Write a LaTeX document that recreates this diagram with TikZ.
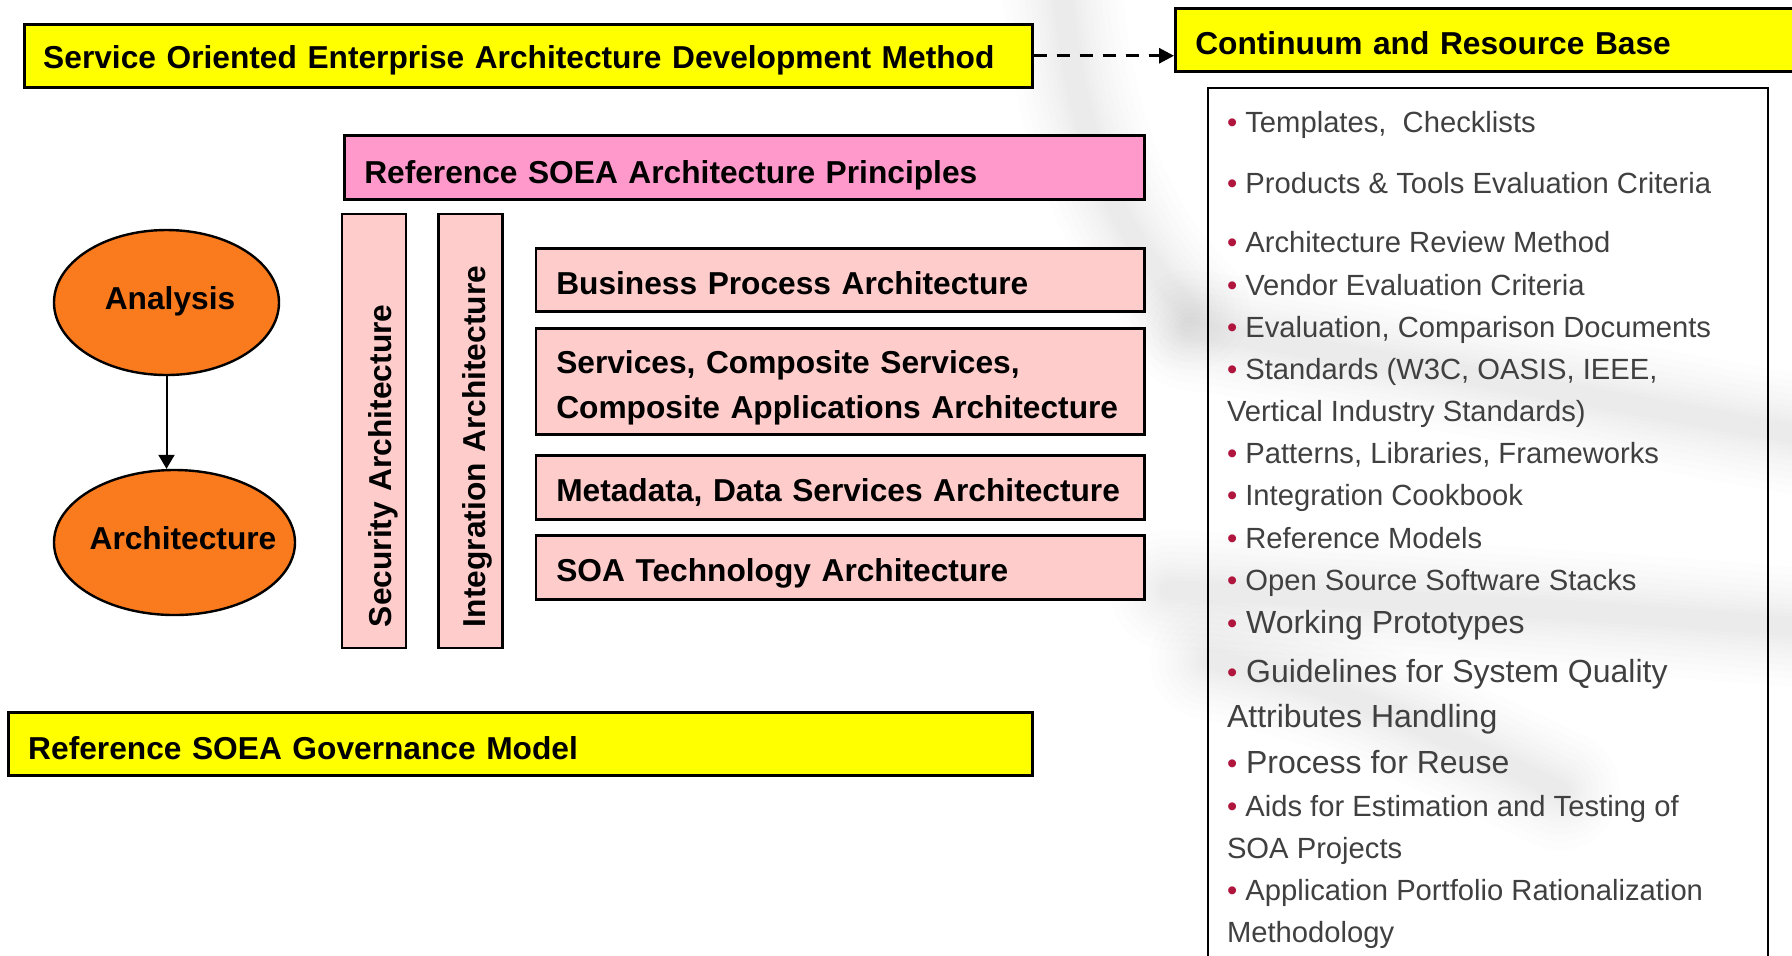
\documentclass[tikz,border=0pt]{standalone}
\usepackage{fontspec}
\setmainfont{Liberation Sans}
\usetikzlibrary{arrows.meta,shapes.geometric}
\definecolor{soyellow}{HTML}{FFFF00}
\definecolor{sopink}{HTML}{FF99CC}
\definecolor{solight}{HTML}{FFCCCC}
\definecolor{soorange}{HTML}{FA7A1E}
\definecolor{sotext}{HTML}{404040}
\definecolor{sobullet}{HTML}{B0153E}
\newcommand\sobul{{\fontsize{14.6pt}{17pt}\selectfont\color{sobullet}\textbullet}}
\begin{document}
\begin{tikzpicture}[x=0.5pt,y=-0.5pt,
  box/.style={draw=black, line width=1.25pt, anchor=north west, inner ysep=0pt, align=left,
    font=\fontsize{15.85pt}{22.5pt}\selectfont\bfseries},
  ell/.style={ellipse, draw=black, line width=1.2pt, fill=soorange, inner sep=0pt,
    text height=11pt, text depth=4.5pt, font=\fontsize{15.85pt}{19pt}\selectfont\bfseries},
  itm/.style={anchor=base west, inner sep=0pt, text=sotext, font=\fontsize{14.6pt}{17pt}\selectfont},
  bigitm/.style={itm, font=\fontsize{16pt}{19pt}\selectfont},
  solidarr/.style={line width=1pt, -{Triangle[length=7pt,width=8pt]}},
  dasharr/.style={line width=1.5pt, dash pattern=on 6.5pt off 5pt, -{Triangle[length=7.5pt,width=7.5pt]}},
  swoosh/.style={draw=black, line cap=round, opacity=0.009}
]
\fill[white] (0,0) rectangle (1792,955);
\useasboundingbox (0,0) rectangle (1792,955);
% faint background swoosh
\foreach \w in {120,104,90,77,65,54,44,35,27,20}{
  \draw[swoosh, line width=\w*0.5pt] (1060,-40) .. controls (1070,120) and (1110,230) .. (1190,310);
  \draw[swoosh, line width=\w*0.5pt] (1190,330) .. controls (1400,360) and (1600,400) .. (1830,440);
  \draw[swoosh, line width=\w*0.5pt] (1170,590) .. controls (1400,600) and (1600,610) .. (1830,630);
  \draw[swoosh, line width=\w*0.5pt] (1210,660) .. controls (1350,685) and (1450,740) .. (1560,790);
}
% top boxes
\node[box, fill=soyellow, minimum width=504pt, text width=485pt, inner xsep=9.5pt,
  text height=22pt, text depth=9.5pt] (soea) at (23,23)
  {\mbox{Service Oriented Enterprise Architecture Development Method}};
\node[box, fill=soyellow, minimum width=318pt, text width=298pt, inner xsep=10pt,
  text height=23pt, text depth=8.5pt] (cont) at (1174,7) {\mbox{Continuum and Resource Base}};
\draw[dasharr] (soea.east) -- (soea.east -| cont.west);
% principles
\node[box, fill=sopink, minimum width=400pt, text width=380pt, inner xsep=10pt,
  text height=24pt, text depth=8pt] (prin) at (343,134) {\mbox{Reference SOEA Architecture Principles}};
% vertical boxes
\node[box, fill=solight, anchor=center, rotate=90, minimum width=217pt, text width=196pt,
  inner xsep=10.5pt, text height=24.5pt, text depth=7.5pt] (sec) at (374,431) {\mbox{Security Architecture}};
\node[box, fill=solight, anchor=center, rotate=90, minimum width=217pt, text width=196pt,
  inner xsep=10.5pt, text height=23.6pt, text depth=8.4pt] (integ) at (470.5,431) {\mbox{Integration Architecture}};
% layer boxes
\node[box, fill=solight, minimum width=304.25pt, text width=283.75pt, inner xsep=10.25pt,
  text height=23pt, text depth=8.5pt] (bpa) at (534.5,247) {\mbox{Business Process Architecture}};
\node[box, fill=solight, minimum width=304.25pt, text width=283.75pt, inner xsep=10.25pt,
  text height=22.5pt, text depth=30.5pt] (svc) at (534.5,327)
  {\mbox{Services, Composite Services,}\\\mbox{Composite Applications Architecture}};
\node[box, fill=solight, minimum width=304.25pt, text width=283.75pt, inner xsep=10.25pt,
  text height=23pt, text depth=9pt] (meta) at (534.5,454) {\mbox{Metadata, Data Services Architecture}};
\node[box, fill=solight, minimum width=304.25pt, text width=283.75pt, inner xsep=10.25pt,
  text height=23pt, text depth=9pt] (tech) at (534.5,534) {\mbox{SOA Technology Architecture}};
% governance
\node[box, fill=soyellow, minimum width=512pt, text width=492pt, inner xsep=10pt,
  text height=23.5pt, text depth=8pt] (gov) at (7,711) {\mbox{Reference SOEA Governance Model}};
% ellipses
\node[ell, minimum width=112.5pt, minimum height=72.5pt] (ana) at (166.5,302.5)
  {\makebox[0pt]{\hspace*{3.5pt}Analysis}};
\node[ell, minimum width=120.5pt, minimum height=72.5pt] (arch) at (174.5,542.5)
  {\makebox[0pt]{\hspace*{8.5pt}Architecture}};
\draw[solidarr] (ana.south) -- (ana.south |- arch.north);
% resource list
\node[draw=black, line width=1.1pt, anchor=north west, minimum width=280pt, minimum height=460pt,
  inner sep=0pt] (res) at (1207,87) {};
\begin{scope}
\frenchspacing
\node[itm] (l1) at (1226.6,132) {\sobul\ Templates,\ \ Checklists};
\node[itm] (l2) at (1226.6,193) {\sobul\ Products \& Tools Evaluation Criteria};
\node[itm] (l3) at (1226.6,252) {\sobul\ Architecture Review Method};
\node[itm] (l4) at (1226.6,295) {\sobul\ Vendor Evaluation Criteria};
\node[itm] (l5) at (1226.6,337) {\sobul\ Evaluation, Comparison Documents};
\node[itm] (l6) at (1226.6,379) {\sobul\ Standards (W3C, OASIS, IEEE,};
\node[itm] (l7) at (1226.6,421) {Vertical Industry Standards)};
\node[itm] (l8) at (1226.6,463) {\sobul\ Patterns, Libraries, Frameworks};
\node[itm] (l9) at (1226.6,505) {\sobul\ Integration Cookbook};
\node[itm] (l10) at (1226.6,548) {\sobul\ Reference Models};
\node[itm] (l11) at (1226.6,590) {\sobul\ Open Source Software Stacks};
\node[bigitm] (l12) at (1226.6,633) {\sobul\ Working Prototypes};
\node[bigitm] (l13) at (1226.6,682) {\sobul\ Guidelines for System Quality};
\node[bigitm] (l14) at (1226.6,727) {Attributes Handling};
\node[bigitm] (l15) at (1226.6,773) {\sobul\ Process for Reuse};
\node[itm] (l16) at (1226.6,816) {\sobul\ Aids for Estimation and Testing of};
\node[itm] (l17) at (1226.6,858) {SOA Projects};
\node[itm] (l18) at (1226.6,900) {\sobul\ Application Portfolio Rationalization};
\node[itm] (l19) at (1226.6,942) {Methodology};
\end{scope}
\end{tikzpicture}
\end{document}
